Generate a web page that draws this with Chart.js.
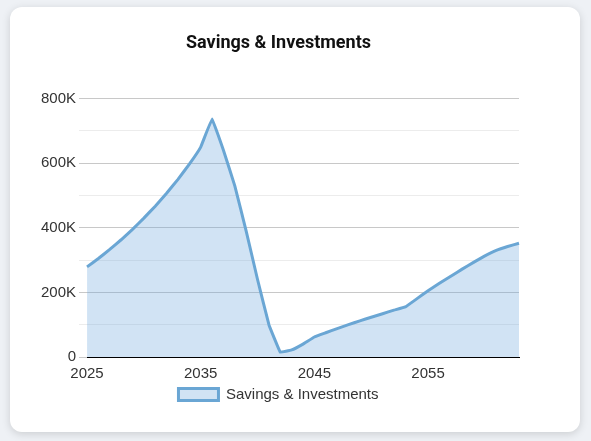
<!DOCTYPE html>
<html><head><meta charset="utf-8">
<script src="https://cdn.jsdelivr.net/npm/chart.js@4"></script>
<style>
body{margin:0;background:#eef1f5;font-family:Arial,"Liberation Sans",sans-serif;}
.card{position:absolute;left:10px;top:7px;width:570px;height:425px;background:#fff;border-radius:12px;box-shadow:0 2px 8px rgba(0,0,0,0.15);}
.box{position:absolute;left:20px;top:20px;width:530px;height:385px;}
</style></head><body>
<div class="card"><div class="box"><canvas id="c"></canvas></div></div>
<script>
const years = [];
for (let y = 2025; y <= 2063; y++) years.push(String(y));
const savings = [279,305,333,363,395,430,467,507,550,597,650,737,640,530,390,240,100,15,22,40,62,75,88,100,112,123,134,145,155,180,205,228,250,272,293,313,330,342,352].map(v => v * 1000);

new Chart(document.getElementById("c"), {
  type: "line",
  data: {
    labels: years,
    datasets: [{
      label: "Savings & Investments",
      data: savings,
      borderColor: "#6aa6d4",
      backgroundColor: "rgba(111,168,220,0.32)",
      borderWidth: 3,
      fill: true,
      pointRadius: 0,
      tension: 0.05
    }]
  },
  options: {
    responsive: true,
    maintainAspectRatio: false,
    animation: false,
    layout: { padding: { left: 8, right: 41 } },
    plugins: {
      title: { display: true, text: "Savings & Investments", color: "#111", font: { size: 18, weight: "bold", family: "Roboto" }, padding: { top: 6, bottom: 44 } },
      legend: { position: "bottom", labels: { color: "#333", font: { size: 15, family: "Arial" }, boxWidth: 40, boxHeight: 12, padding: 4 } }
    },
    scales: {
      x: {
        grid: { display: false },
        border: { color: "#000" },
        ticks: { color: "#333", font: { size: 15, family: "Arial" }, padding: 0, maxRotation: 0, autoSkip: false,
          callback: (v, i) => (i % 10 === 0 ? years[i] : null) }
      },
      y: {
        min: 0, max: 800000,
        border: { display: false },
        grid: { color: (ctx) => (ctx.tick.value % 200000 === 0 ? "#c8c8c8" : "#ececec") },
        ticks: { stepSize: 100000, color: "#333", font: { size: 15, family: "Arial" },
          callback: (v) => (v % 200000 === 0 ? (v === 0 ? "0" : v / 1000 + "K") : "") }
      }
    }
  }
});
</script>
</body></html>
